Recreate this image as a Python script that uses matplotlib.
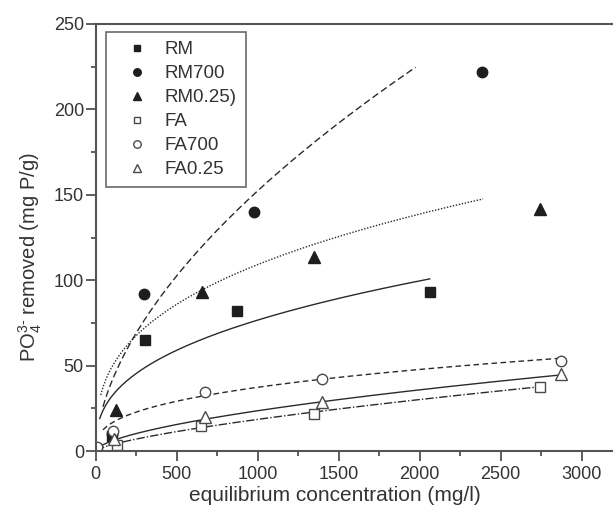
import numpy as np
import matplotlib
matplotlib.use("Agg")
from matplotlib import pyplot as plt
from matplotlib.ticker import MultipleLocator

plt.rcParams['font.family'] = ['Liberation Sans', 'DejaVu Sans']
plt.rcParams['mathtext.fontset'] = 'custom'
plt.rcParams['mathtext.rm'] = 'Liberation Sans'
plt.rcParams['mathtext.it'] = 'Liberation Sans'

# measured points (equilibrium conc. mg/l, removed mg P/g)
rm_x = [100, 302, 872, 2062]
rm_y = [8.5, 64.8, 82, 92.9]
rm700_x = [100, 298, 977, 2387]
rm700_y = [10, 91.7, 140, 222]
rm025_x = [123, 654, 1348, 2741]
rm025_y = [24, 93, 113.4, 141.5]
fa_x = [5, 130, 648, 1348, 2741]
fa_y = [1, 3.7, 14.8, 21.7, 37.7]
fa700_x = [8, 105, 677, 1399, 2870]
fa700_y = [2.5, 11.6, 34.5, 42, 52.9]
fa025_x = [110, 673, 1399, 2870]
fa025_y = [7, 20, 28.5, 45]

# Freundlich fits q = K * C^b
fit_K = [5.63, 2.95, 10.0, 0.144, 3.19, 0.366]
fit_b = [0.378, 0.571, 0.346, 0.703, 0.356, 0.603]
fit_start = [25, 45, 31, 5, 45, 5]
fit_end = [2062, 1975, 2391, 2737, 2864, 2864]

labels = ['RM', 'RM700', 'RM0.25)', 'FA', 'FA700', 'FA0.25']

fig = plt.figure(figsize=(6.13, 5.05), dpi=100)
ax = fig.add_axes([95.7 / 613, 54 / 505, 518.4 / 613, 427 / 505])

ink = '#1e1e1e'
edge = '#4a4a4a'
lstyles = ['-', (0, (5, 2.5)), (0, (1, 1.2)), (0, (6, 1.5, 1, 1.5)), (0, (4, 2.5)), '-']
for K, b, x0, x1, ls in zip(fit_K, fit_b, fit_start, fit_end, lstyles):
    xs = np.linspace(x0, x1, 300)
    ax.plot(xs, K * xs ** b, ls=ls, color='#2a2a2a', lw=1.0)

ax.plot(rm_x, rm_y, 's', color=ink, ms=6.5, ls='none', label=labels[0])
ax.plot(rm700_x, rm700_y, 'o', color=ink, ms=7.5, ls='none', label=labels[1])
ax.plot(rm025_x, rm025_y, '^', color=ink, ms=8.5, ls='none', label=labels[2])
ax.plot(fa_x, fa_y, 's', mfc='white', mec=edge, mew=1.0, ms=6.5, ls='none', label=labels[3])
ax.plot(fa700_x, fa700_y, 'o', mfc='white', mec=edge, mew=1.0, ms=7.5, ls='none', label=labels[4])
ax.plot(fa025_x, fa025_y, '^', mfc='white', mec=edge, mew=1.0, ms=8.5, ls='none', label=labels[5])

ax.set_xlim(0, 3200)
ax.set_ylim(0, 250)
ax.xaxis.set_major_locator(MultipleLocator(500))
ax.xaxis.set_minor_locator(MultipleLocator(250))
ax.yaxis.set_major_locator(MultipleLocator(50))
ax.yaxis.set_minor_locator(MultipleLocator(25))
ax.tick_params(which='both', direction='out', colors='#444444', labelcolor='#333333',
               labelsize=13, width=1.2)
ax.tick_params(which='major', length=7)
ax.tick_params(which='minor', length=3.8)
ax.tick_params(axis='x', which='major', pad=4)
ax.tick_params(axis='y', which='major', pad=1.5)
ax.tick_params(top=False, right=False)
for s in ax.spines.values():
    s.set_color('#555555')
    s.set_linewidth(1.5)

ax.set_xlabel('equilibrium concentration (mg/l)', fontsize=15, color='#333333')
ax.xaxis.set_label_coords(0.4606, -0.083)
ax.set_ylabel('PO$_4^{3\\text{-}}$ removed (mg P/g)', fontsize=14.5, color='#333333')
ax.yaxis.set_label_coords(-0.100, 0.455)

leg = ax.legend(loc='upper left', bbox_to_anchor=(0.0199, 0.982), fontsize=13.5,
                frameon=True, fancybox=False, borderaxespad=0, borderpad=0.5,
                labelspacing=0.366, handletextpad=0.34, handlelength=2.3,
                markerscale=0.72)
leg.get_frame().set_edgecolor('#444444')
leg.get_frame().set_linewidth(1.2)
for t in leg.get_texts():
    t.set_color('#333333')

fig.savefig('out.png', dpi=100)
